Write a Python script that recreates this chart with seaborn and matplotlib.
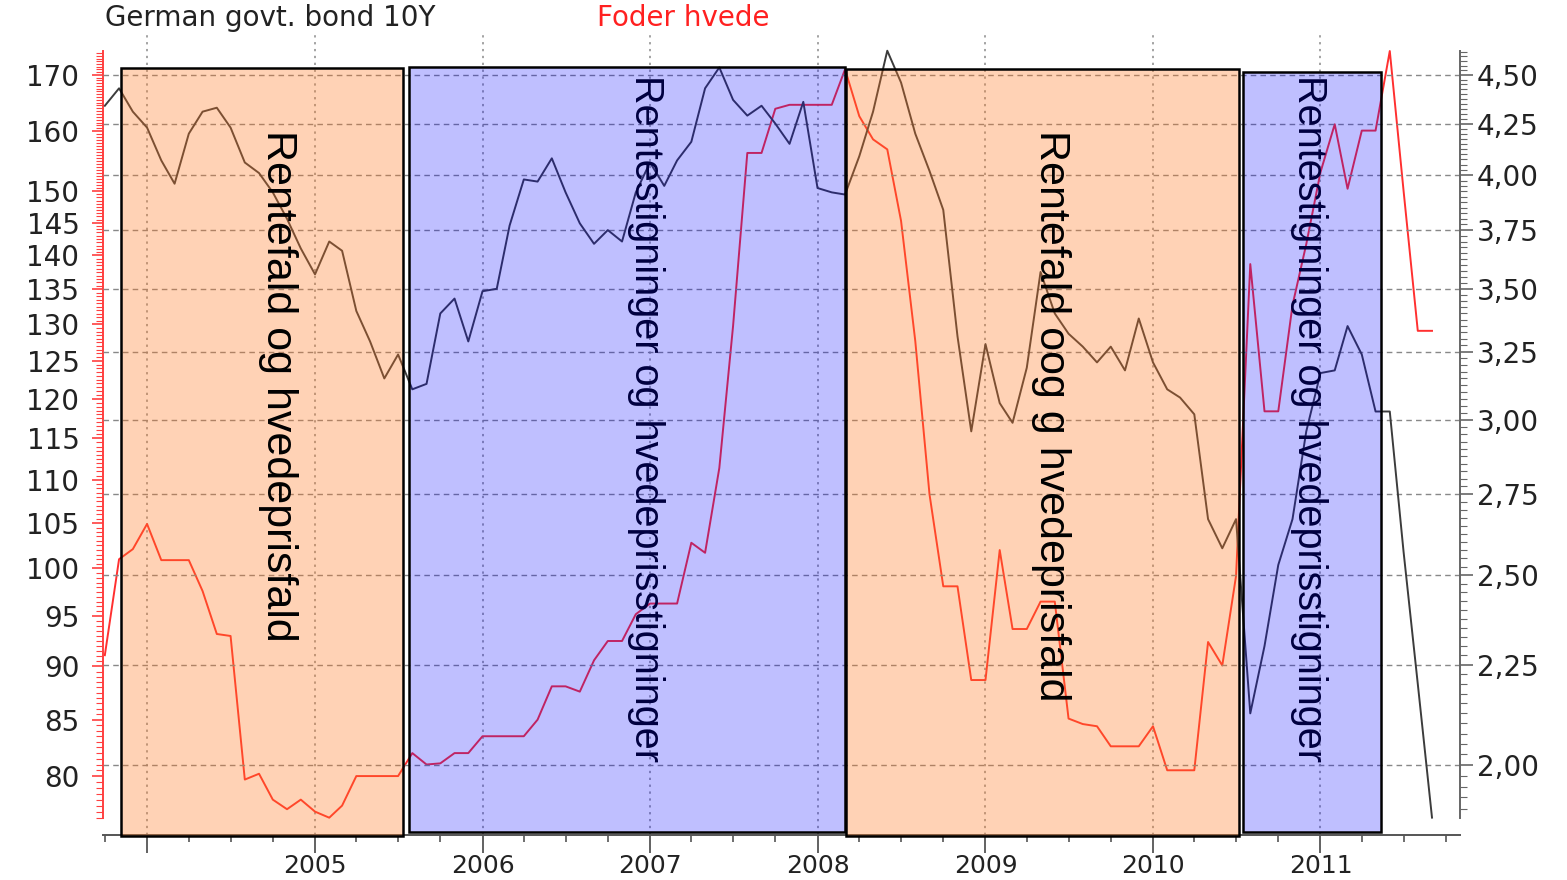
import numpy as np
import pandas as pd
import matplotlib
matplotlib.use('Agg')
import matplotlib.pyplot as plt
import matplotlib.dates as mdates
import matplotlib.ticker as mticker
import matplotlib.transforms as mtrans
from matplotlib.patches import Rectangle
import seaborn as sns

# monthly series, Oct 2003 - Sep 2011
months = pd.date_range('2003-10-01', periods=96, freq='MS')

bond_10y = [
    4.34, 4.43, 4.31, 4.23, 4.07, 3.96, 4.20, 4.31, 4.33, 4.23, 4.06, 4.01,
    3.92, 3.80, 3.67, 3.56, 3.70, 3.66, 3.41, 3.29, 3.15, 3.24, 3.11, 3.13,
    3.40, 3.46, 3.29, 3.49, 3.50, 3.77, 3.98, 3.97, 4.08, 3.92, 3.78, 3.69,
    3.75, 3.70, 3.92, 4.06, 3.95, 4.07, 4.16, 4.43, 4.54, 4.37, 4.29, 4.34,
    4.25, 4.15, 4.36, 3.94, 3.92, 3.91, 4.09, 4.31, 4.63, 4.46, 4.20, 4.02,
    3.84, 3.31, 2.96, 3.28, 3.06, 2.99, 3.19, 3.57, 3.40, 3.32, 3.27, 3.21,
    3.27, 3.18, 3.38, 3.21, 3.11, 3.08, 3.02, 2.67, 2.58, 2.67, 2.125, 2.30,
    2.53, 2.67, 2.96, 3.17, 3.18, 3.35, 3.24, 3.03, 3.03, 2.57, 2.20, 1.88,
]

foder_hvede = [
    91.1, 101.0, 102.1, 104.9, 100.9, 100.9, 100.9, 97.6, 93.2, 93.0, 79.7, 80.2,
    78.0, 77.2, 78.0, 77.0, 76.5, 77.5, 80.0, 80.0, 80.0, 80.0, 82.0, 81.0,
    81.1, 82.0, 82.0, 83.5, 83.5, 83.5, 83.5, 85.0, 88.1, 88.1, 87.6, 90.6,
    92.5, 92.5, 95.2, 96.3, 96.3, 96.3, 102.8, 101.7, 111.4, 129.8, 156.3, 156.3,
    163.9, 164.6, 164.6, 164.6, 164.6, 171.0, 162.6, 158.6, 156.9, 145.3, 127.7, 108.3,
    98.1, 98.1, 88.7, 88.7, 102.0, 93.7, 93.7, 96.5, 96.5, 85.1, 84.6, 84.4,
    82.6, 82.6, 82.6, 84.4, 80.5, 80.5, 80.5, 92.4, 90.1, 99.2, 138.7, 118.4,
    118.4, 132.7, 141.7, 153.1, 161.2, 150.4, 160.1, 160.1, 174.4, 150.1, 129.1, 129.1,
]

wheat_ticks = [80, 85, 90, 95, 100, 105, 110, 115, 120, 125, 130, 135, 140, 145, 150, 160, 170]
bond_ticks = [2.00, 2.25, 2.50, 2.75, 3.00, 3.25, 3.50, 3.75, 4.00, 4.25, 4.50]
year_ticks = [2004, 2005, 2006, 2007, 2008, 2009, 2010, 2011]
year_labels = ['', '2005', '2006', '2007', '2008', '2009', '2010', '2011']

# shaded periods: start, end, kind
period_start = ['2003-11-05', '2005-07-25', '2008-03-03', '2010-07-16']
period_end = ['2005-07-12', '2008-03-01', '2010-07-07', '2011-05-13']
period_kind = ['fald', 'stig', 'fald', 'stig']

labels = ['Rentefald og hvedeprisfald',
          'Rentestigninger og hvedeprisstigninger',
          'Rentefald oog g hvedeprisfald',
          'Rentestigninger og hvedeprisstigninger']
label_dates = ['2004-10-12', '2006-12-23', '2009-05-24', '2010-12-08']

plt.rcParams['font.family'] = ['DejaVu Sans']

fig = plt.figure(figsize=(15.67, 8.80), dpi=100)
ax = fig.add_axes([103 / 1567, 45 / 880, 1357 / 1567, 803 / 880])

sns.lineplot(x=months, y=foder_hvede, ax=ax, color='#ff3030', linewidth=1.4)
ax2 = ax.twinx()
sns.lineplot(x=months, y=bond_10y, ax=ax2, color='#3c3c3c', linewidth=1.4)

ax.set_yscale('log')
ax2.set_yscale('log')
ax.set_ylim(75.09, 178.0)
ax2.set_ylim(1.842, 4.733)
ax.set_xlim(pd.Timestamp('2003-09-27'), pd.Timestamp('2011-11-01'))
for a in (ax, ax2):
    a.set_xlabel('')
    a.set_ylabel('')

# x axis
ax.xaxis.set_major_locator(mticker.FixedLocator(
    [mdates.date2num(pd.Timestamp(f'{y}-01-01')) for y in year_ticks]))
ax.xaxis.set_major_formatter(mticker.FixedFormatter(year_labels))
ax.xaxis.set_minor_locator(mdates.MonthLocator(bymonth=[1, 4, 7, 10]))
ax.tick_params(axis='x', which='major', length=13, width=1.3, color='#555555',
               pad=1, labelsize=18, labelcolor='#222222')
ax.tick_params(axis='x', which='minor', length=5, width=1.2, color='#555555')
ax.xaxis.grid(True, which='major', linestyle=(0, (1.5, 3)), color='#8a8a8a', linewidth=1.1)
ax.yaxis.grid(False)

# left axis (wheat)
ax.yaxis.set_major_locator(mticker.FixedLocator(wheat_ticks))
ax.yaxis.set_major_formatter(mticker.FixedFormatter([str(t) for t in wheat_ticks]))
wmin, wmax = min(foder_hvede), max(foder_hvede)
ax.yaxis.set_minor_locator(mticker.FixedLocator(np.arange(np.ceil(wmin * 2) / 2, wmax, 0.5)))
ax.yaxis.set_minor_formatter(mticker.NullFormatter())
ax.tick_params(axis='y', which='major', length=8, width=1.2, color='#ff4040',
               pad=9, labelsize=20, labelcolor='#222222')
ax.tick_params(axis='y', which='minor', length=5, width=0.8, color='#ff4040')

# right axis (bond)
ax2.yaxis.set_major_locator(mticker.FixedLocator(bond_ticks))
ax2.yaxis.set_major_formatter(mticker.FixedFormatter(
    [f'{t:.2f}'.replace('.', ',') for t in bond_ticks]))
bmin, bmax = min(bond_10y), max(bond_10y)
ax2.yaxis.set_minor_locator(mticker.FixedLocator(np.arange(1.9, bmax, 0.025)))
ax2.yaxis.set_minor_formatter(mticker.NullFormatter())
ax2.tick_params(axis='y', which='major', length=9, width=1.2, color='#666666',
                pad=3, labelsize=20, labelcolor='#222222')
ax2.tick_params(axis='y', which='minor', length=5, width=0.8, color='#666666')
ax2.yaxis.grid(True, which='major', linestyle=(0, (4, 3)), color='#888888', linewidth=1)

# spines
for s in ('top', 'right'):
    ax.spines[s].set_visible(False)
for s in ('top', 'left', 'bottom'):
    ax2.spines[s].set_visible(False)
ax.spines['left'].set_color('#ff4040')
ax.spines['left'].set_linewidth(1.4)
ax.spines['left'].set_bounds(wmin, wmax)
ax.spines['bottom'].set_color('#555555')
ax.spines['bottom'].set_linewidth(1.4)
ax2.spines['right'].set_color('#666666')
ax2.spines['right'].set_linewidth(1.4)
ax2.spines['right'].set_bounds(bmin, bmax)

# shaded periods
trans = mtrans.blended_transform_factory(ax2.transData, ax2.transAxes)
fills = {'fald': (1.0, 0.47, 0.12, 0.33), 'stig': (0.0, 0.0, 1.0, 0.25)}
rect_tops = [0.955, 0.957, 0.954, 0.950]
rect_bottoms = [-0.001, 0.004, -0.001, 0.004]
for start, end, kind, top, bot in zip(period_start, period_end, period_kind,
                                      rect_tops, rect_bottoms):
    x0 = mdates.date2num(pd.Timestamp(start))
    x1 = mdates.date2num(pd.Timestamp(end))
    ax2.add_patch(Rectangle((x0, bot), x1 - x0, top - bot,
                            transform=trans, facecolor=fills[kind], edgecolor='black',
                            linewidth=1.8, zorder=5, clip_on=False))

label_tops = [0.878, 0.9465, 0.878, 0.9465]
label_sizes = [31, 28.5, 31, 28.5]
for txt, d, top, size, kind in zip(labels, label_dates, label_tops, label_sizes, period_kind):
    ax2.text(mdates.date2num(pd.Timestamp(d)), top, txt, transform=trans,
             rotation=-90, ha='center', va='top', fontsize=size,
             family=['Liberation Sans', 'DejaVu Sans'], color='black',
             zorder=6 if kind == 'fald' else 4)

# legend-like header
fig.text(105 / 1567, 1 - 18 / 880, 'German govt. bond 10Y', fontsize=20,
         color='#222222', ha='left', va='center')
fig.text(597 / 1567, 1 - 18 / 880, 'Foder hvede', fontsize=20,
         color='#ff2020', ha='left', va='center')

fig.savefig('out.png', dpi=100)
